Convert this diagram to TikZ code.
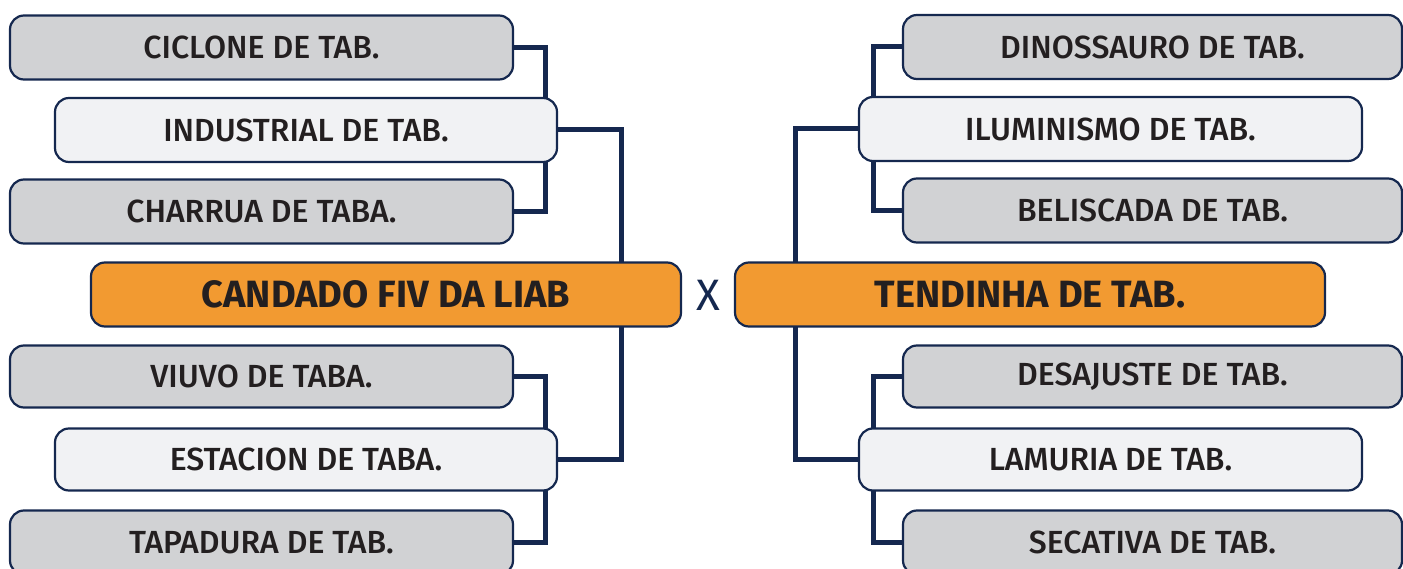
\documentclass[tikz,border=0pt]{standalone}
\usepackage{fontspec}
\setmainfont{Fira Sans}
\newfontfamily\labfont{Fira Sans}[UprightFont=* Medium]
\newfontfamily\boldlab{Fira Sans}[UprightFont=* Bold]
\definecolor{navy}{HTML}{15284F}
\definecolor{boxgray}{HTML}{D1D2D4}
\definecolor{boxlight}{HTML}{F1F2F4}
\definecolor{boxorange}{HTML}{F29A31}
\definecolor{txt}{HTML}{231F20}
\pgfdeclarelayer{bg}
\pgfsetlayers{bg,main}
\begin{document}
\begin{tikzpicture}[x=1pt,y=-1pt,
  base/.style={draw=navy,line width=2.2pt,rounded corners=14pt,minimum height=64pt,inner sep=0pt,
    font=\labfont\fontsize{32}{32}\selectfont,text=txt},
  graybox/.style={base,fill=boxgray,minimum width=503pt},
  lightbox/.style={base,fill=boxlight,minimum width=502pt},
  orangebox/.style={base,fill=boxorange,minimum width=590pt,font=\boldlab\fontsize{38}{38}\selectfont},
  link/.style={draw=navy,line width=5pt}]
\useasboundingbox (0,0) rectangle (1403,569);
% left
\node[graybox] (ciclone) at (261.5,47.5) {CICLONE DE TAB.};
\node[lightbox] (industrial) at (306,130) {INDUSTRIAL DE TAB.};
\node[graybox] (charrua) at (261.5,211.5) {CHARRUA DE TABA.};
\node[orangebox] (candado) at (386,294.5) {CANDADO FIV DA LIAB};
\node[graybox,minimum height=62pt] (viuvo) at (261.5,376.5) {VIUVO DE TABA.};
\node[lightbox,minimum height=62pt] (estacion) at (306,459.5) {ESTACION DE TABA.};
\node[graybox] (tapadura) at (261.5,542.5) {TAPADURA DE TAB.};
% right
\node[graybox,minimum width=499pt] (dino) at (1152.5,47) {DINOSSAURO DE TAB.};
\node[lightbox,minimum width=503pt] (ilum) at (1110.5,129) {ILUMINISMO DE TAB.};
\node[graybox,minimum width=499pt] (belis) at (1152.5,210.5) {BELISCADA DE TAB.};
\node[orangebox] (tend) at (1030,294.5) {TENDINHA DE TAB.};
\node[graybox,minimum width=499pt,minimum height=62pt] (desaj) at (1152.5,376.5) {DESAJUSTE DE TAB.};
\node[lightbox,minimum width=503pt,minimum height=62pt] (lamur) at (1110.5,459.5) {LAMURIA DE TAB.};
\node[graybox,minimum width=499pt] (secat) at (1152.5,542.5) {SECATIVA DE TAB.};
\node[text=navy,font=\fontsize{44}{44}\selectfont,inner sep=0pt] (vs) at (708,295) {X};
\begin{pgfonlayer}{bg}
\draw[link] (ciclone.east) -| (545,130) |- (charrua.east);
\draw[link] (viuvo.east) -| (545,459) |- (tapadura.east);
\draw[link] (industrial.east) -| (621,294) |- (estacion.east);
\draw[link] (dino.west) -| (873,130) |- (belis.west);
\draw[link] (desaj.west) -| (873,459) |- (secat.west);
\draw[link] (ilum.west) -| (795,294) |- (lamur.west);
\end{pgfonlayer}
\end{tikzpicture}
\end{document}
